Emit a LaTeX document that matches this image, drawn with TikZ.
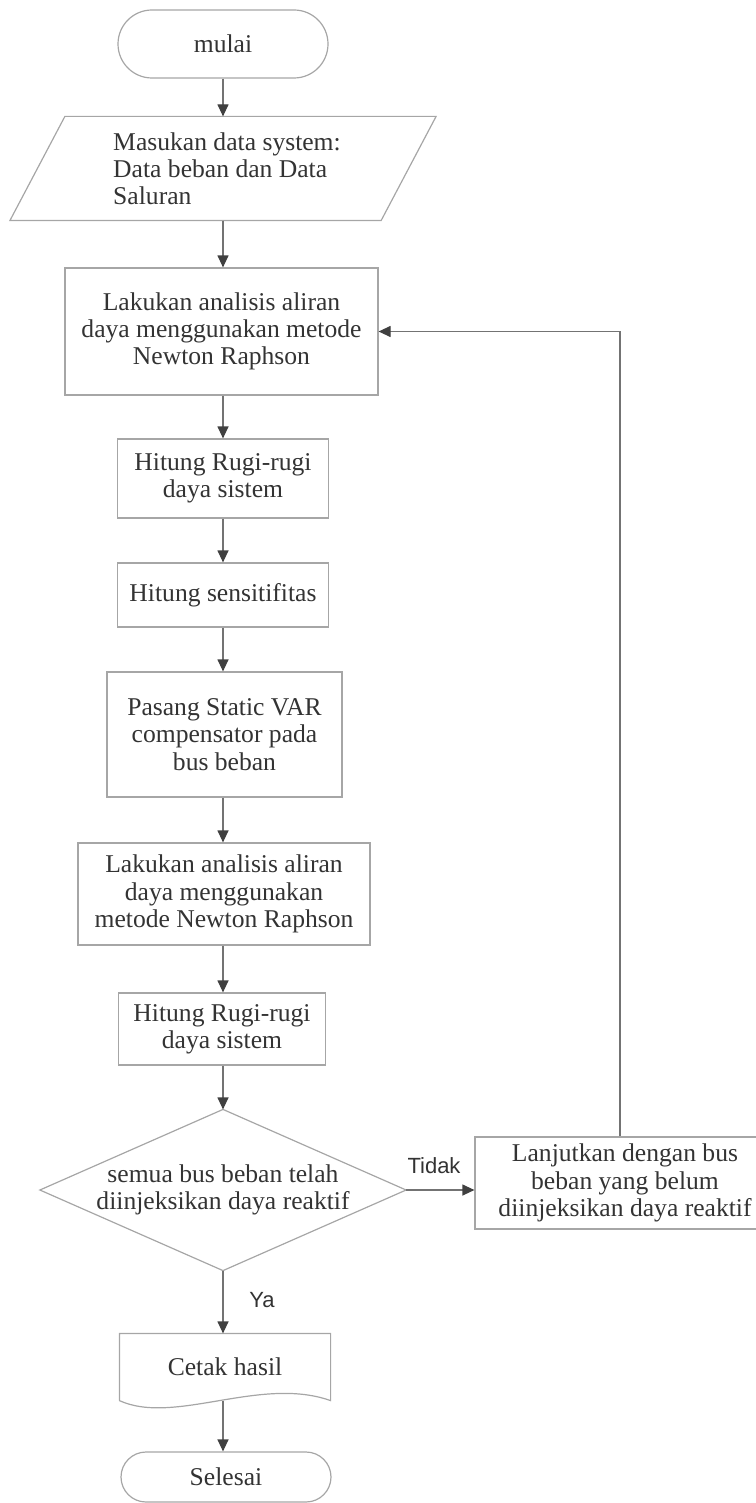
\documentclass[tikz,border=0pt]{standalone}
\usepackage{fontspec}
\setmainfont{Liberation Serif}
\newfontfamily\labelfont{Liberation Sans}
\usetikzlibrary{arrows.meta,calc}
\begin{document}
\begin{tikzpicture}[x=0.5pt,y=-0.5pt,
  box/.style={draw=black!35, line width=0.6pt, align=center, text=black!80,
    font=\fontsize{12.8}{13.6}\selectfont, inner sep=0pt},
  term/.style={box},
  shapeline/.style={draw=black!35, line width=0.6pt},
  flow/.style={draw=black!55, line width=0.6pt, -{Triangle[length=6pt,width=5.5pt,color=black!75]}},
  lbl/.style={font=\labelfont\fontsize{11}{12}\selectfont, text=black!80, inner sep=0pt}
]
\useasboundingbox (0,0) rectangle (755,1503);

% nodes
\node[term, minimum width=105pt, minimum height=34pt, rounded corners=17pt] (start) at (223,44) {mulai};
\node[box, draw=none, align=left, minimum width=185pt, minimum height=51.5pt] (io) at (227,168.5)
  {Masukan data system:\\Data beban dan Data\\Saluran};
\draw[shapeline] ($(io.north west)+(11.75pt,0)$) -- ($(io.north east)+(11.75pt,0)$)
  -- ($(io.south east)+(-15.75pt,0)$) -- ($(io.south west)+(-15.75pt,0)$) -- cycle;

\node[box, minimum width=156.5pt, minimum height=63.5pt] (b1) at (221.5,331.5)
  {Lakukan analisis aliran\\daya menggunakan metode\\Newton Raphson};
\node[box, minimum width=105.5pt, minimum height=39.5pt] (b2) at (223,478.5)
  {Hitung Rugi-rugi\\daya sistem};
\node[box, minimum width=105.5pt, minimum height=32pt] (b3) at (223,595)
  {Hitung sensitifitas};
\node[box, minimum width=117.5pt, minimum height=62.5pt] (b4) at (224.5,734.5)
  {Pasang Static VAR\\compensator pada\\bus beban};
\node[box, minimum width=146pt, minimum height=51pt] (b5) at (224,894)
  {Lakukan analisis aliran\\daya menggunakan\\metode Newton Raphson};
\node[box, minimum width=103.5pt, minimum height=36pt] (b6) at (222,1029)
  {Hitung Rugi-rugi\\daya sistem};

\node[box, draw=none, minimum width=182.5pt, minimum height=80pt] (dec) at (223,1190)
  {semua bus beban telah\\diinjeksikan daya reaktif};
\draw[shapeline] (dec.north) -- (dec.east) -- (dec.south) -- (dec.west) -- cycle;

\node[box, minimum width=150pt, minimum height=46pt] (lj) at (625,1183)
  {Lanjutkan dengan bus\\beban yang belum\\diinjeksikan daya reaktif};

\node[box, draw=none, minimum width=105pt, minimum height=33pt] (cetak) at (225,1367) {Cetak hasil};
\draw[shapeline] (cetak.south west) -- (cetak.north west) -- (cetak.north east) -- (cetak.south east)
  .. controls ($(cetak.south east)+(-35pt,12.5pt)$) and ($(cetak.south west)+(27.5pt,-12.5pt)$) .. (cetak.south west);

\node[term, minimum width=105pt, minimum height=25pt, rounded corners=12.5pt] (end) at (226,1477) {Selesai};

% labels
\node[lbl] (tidak) at (434,1166) {Tidak};
\node[lbl] (ya) at (262,1300) {Ya};

% connectors
\draw[flow] (start.south) -- (start.south |- io.north);
\draw[flow] (io.south -| start.south) -- (start.south |- b1.north);
\draw[flow] (b1.south -| start.south) -- (start.south |- b2.north);
\draw[flow] (b2.south) -- (b2.south |- b3.north);
\draw[flow] (b3.south) -- (b3.south |- b4.north);
\draw[flow] (b4.south -| b3.south) -- (b3.south |- b5.north);
\draw[flow] (b5.south -| b3.south) -- (b3.south |- b6.north);
\draw[flow] (b6.south -| b3.south) -- (b3.south |- dec.north);
\draw[flow] (dec.east) -- (dec.east -| lj.west);
\draw[flow] (dec.south) -- (dec.south |- cetak.north);
\draw[flow] (cetak.south -| dec.south) -- (dec.south |- end.north);
\draw[flow] (lj.north -| 620,0) |- (b1.east);
\end{tikzpicture}
\end{document}
